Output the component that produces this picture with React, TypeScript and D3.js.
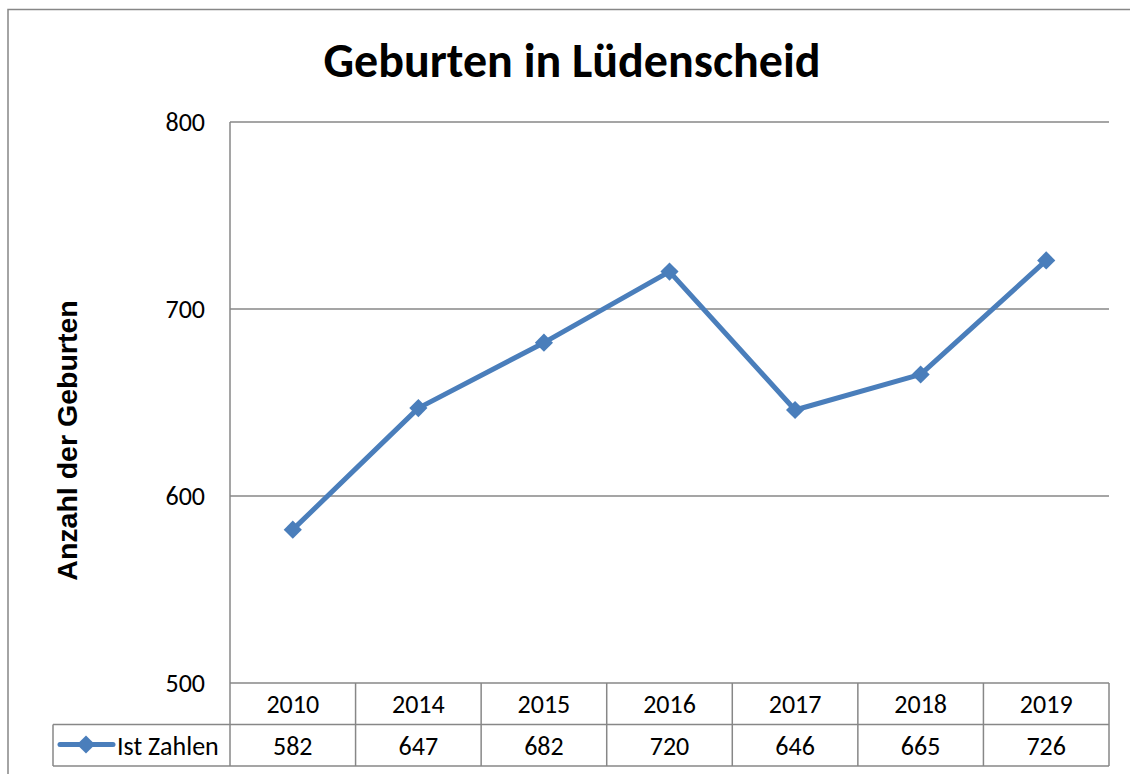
import React from 'react';
import * as d3 from 'd3';

// Daten
const years = ['2010', '2014', '2015', '2016', '2017', '2018', '2019'];
const istZahlen = [582, 647, 682, 720, 646, 665, 726];
const yTicks = [500, 600, 700, 800];
const seriesName = 'Ist Zahlen';
const title = 'Geburten in Lüdenscheid';
const yTitle = 'Anzahl der Geburten';

const W = 1130;
const H = 774;
const plot = { left: 230, right: 1109, top: 122, bottom: 683 };
const rowH = 41.5;
const legendLeft = 53;
const gray = '#878787';
const blue = '#4A7EBB';
const font = 'Carlito, Lato, sans-serif';
const fs = 26;

const App = () => {
  const x = d3.scaleBand().domain(years).range([plot.left, plot.right]);
  const y = d3.scaleLinear().domain([500, 800]).range([plot.bottom, plot.top]);

  const line = d3
    .line<number>()
    .x((d, i) => x(years[i])! + x.bandwidth() / 2)
    .y(d => y(d));

  const diamond = d3.symbol().type(d3.symbolDiamond2).size(210)();

  const row1 = plot.bottom;
  const row2 = plot.bottom + rowH;
  const row3 = plot.bottom + rowH * 2;

  return (
    <svg width={W} height={H} style={{ position: 'absolute', left: 0, top: 0 }}>
      <rect x={0} y={0} width={W} height={H} fill="#fff" />
      {/* Rahmen */}
      <path d={`M8,${H} V9.5 H${W}`} fill="none" stroke={gray} strokeWidth={1.5} />

      <text x={572} y={77} textAnchor="middle" fontFamily={font} fontWeight="bold" fontSize={48}>
        {title}
      </text>

      <text
        transform={`translate(77,${(plot.top + plot.bottom) / 2 + 38}) rotate(-90)`}
        textAnchor="middle"
        fontFamily="'Liberation Sans', Arial, sans-serif"
        fontWeight="bold"
        fontSize={28.5}
      >
        {yTitle}
      </text>

      {/* Gitterlinien */}
      {yTicks.map(t => (
        <g key={t}>
          {t > 500 && (
            <line x1={plot.left} x2={plot.right} y1={y(t)} y2={y(t)} stroke={gray} strokeWidth={1.5} />
          )}
          <text x={205} y={y(t) + 9} textAnchor="end" fontFamily={font} fontSize={fs}>
            {t}
          </text>
        </g>
      ))}
      <line x1={plot.left} x2={plot.left} y1={plot.top} y2={plot.bottom} stroke={gray} strokeWidth={1.5} />

      {/* Datentabelle */}
      <g stroke={gray} strokeWidth={1.5} fill="none">
        <line x1={plot.left} x2={plot.right} y1={row1} y2={row1} />
        <line x1={legendLeft} x2={plot.right} y1={row2} y2={row2} />
        <line x1={legendLeft} x2={plot.right} y1={row3} y2={row3} />
        <line x1={legendLeft} x2={legendLeft} y1={row2} y2={row3} />
        {years.map(yr => (
          <line key={yr} x1={x(yr)} x2={x(yr)} y1={row1} y2={row3} />
        ))}
        <line x1={plot.right} x2={plot.right} y1={row1} y2={row3} />
      </g>
      {years.map((yr, i) => (
        <g key={yr} fontFamily={font} fontSize={fs} textAnchor="middle">
          <text x={x(yr)! + x.bandwidth() / 2} y={row1 + 30}>{yr}</text>
          <text x={x(yr)! + x.bandwidth() / 2} y={row2 + 30}>{istZahlen[i]}</text>
        </g>
      ))}

      {/* Legende */}
      <line x1={60} x2={113} y1={row2 + 20} y2={row2 + 20} stroke={blue} strokeWidth={5} strokeLinecap="round" />
      <path d={diamond!} transform={`translate(86,${row2 + 20})`} fill={blue} />
      <text x={117} y={row2 + 30} fontFamily={font} fontSize={fs}>{seriesName}</text>

      {/* Linie */}
      <path d={line(istZahlen)!} fill="none" stroke={blue} strokeWidth={5} strokeLinejoin="round" />
      {istZahlen.map((v, i) => (
        <path
          key={years[i]}
          d={diamond!}
          transform={`translate(${x(years[i])! + x.bandwidth() / 2},${y(v)})`}
          fill={blue}
        />
      ))}
    </svg>
  );
};

export default App;
